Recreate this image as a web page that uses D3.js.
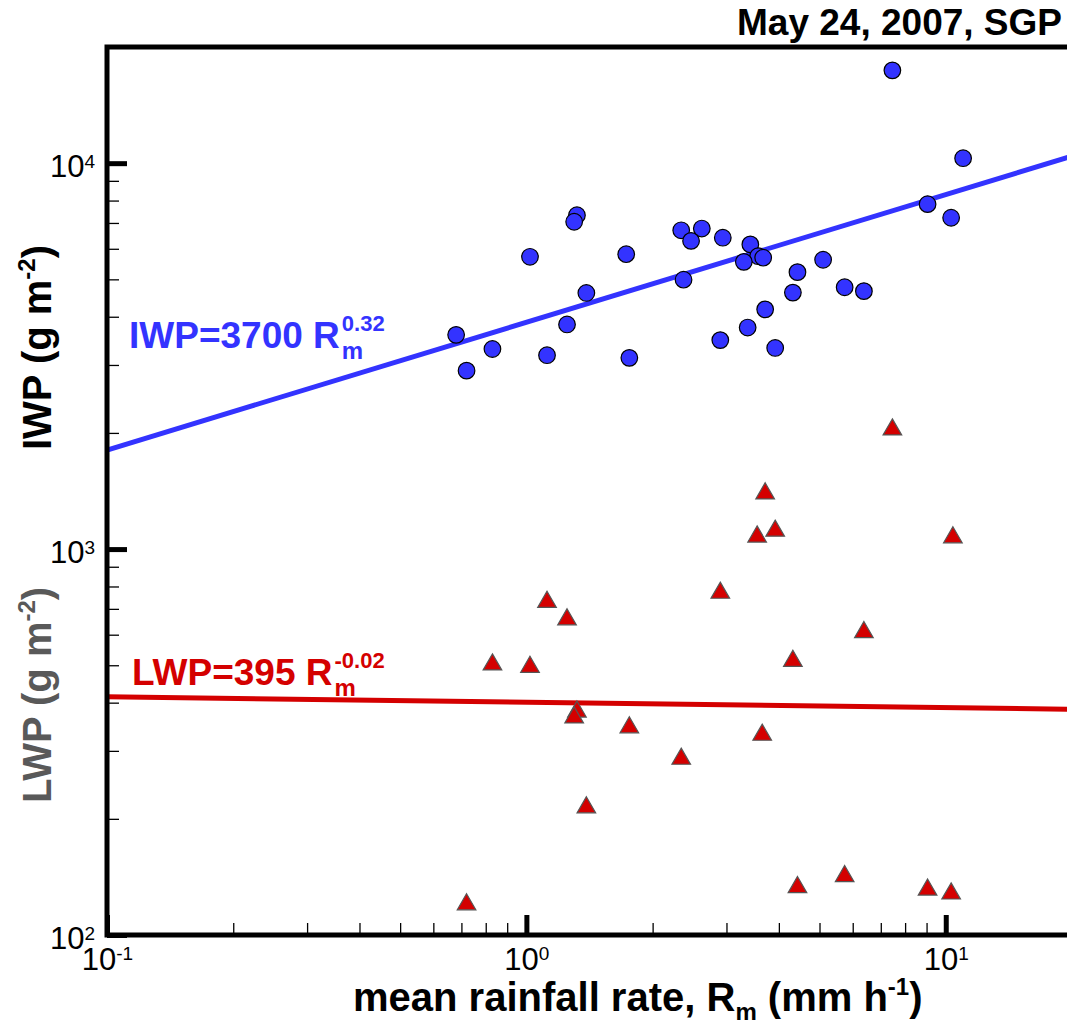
<!DOCTYPE html>
<html>
<head>
<meta charset="utf-8">
<script src="https://cdn.jsdelivr.net/npm/d3@7"></script>
<style>
  body { margin: 0; background: #fff; }
  text { font-family: "Liberation Sans", Arial, sans-serif; }
</style>
</head>
<body>
<script>
// data (May 24, 2007, SGP)

// IWP points: rain rate (mm/h) and ice water path (g/m2)
const rainIwp = [7.46, 11.0, 9.05, 10.3, 1.32, 1.30, 2.34, 2.62, 2.47, 2.94, 3.42, 1.02, 1.73, 3.57, 3.67, 3.30, 5.10,
  4.43, 2.37, 6.38, 5.74, 1.39, 4.32, 3.71, 1.25, 3.37, 0.68, 2.90, 3.92, 0.83, 1.12, 1.76, 0.72]
const iwp = [17400, 10300, 7830, 7220, 7330, 7050, 6700, 6770, 6290, 6410, 6160, 5720, 5810, 5740, 5690, 5550, 5620,
  5220, 4990, 4660, 4770, 4610, 4620, 4180, 3820, 3750, 3590, 3480, 3320, 3300, 3180, 3130, 2900]

// LWP points
const rainLwp = [7.46, 3.71, 3.55, 3.92, 10.4, 2.90, 1.12, 1.25, 1.02, 0.83, 4.32, 6.38, 1.32, 1.30, 1.76, 3.65,
  2.34, 1.39, 0.72, 4.43, 5.74, 9.05, 10.3]
const lwp = [2040, 1393, 1077, 1115, 1072, 770, 729, 657, 495, 502, 513, 609, 379, 366, 345, 330,
  286, 214, 120, 133, 142, 131, 128]

// power-law fits as drawn: a * R^b
const iwpFit = [3870, 0.331]
const lwpFit = [401, -0.014]

const xDomain = [0.1, 20]
const yDomain = [100, 20000]
const xMajor = [0.1, 1, 10]
const yMajor = [100, 1000, 10000]

const blue = "#3333ff"
const red = "#d40000"

// helpers

const exponent = v => String(Math.round(Math.log10(v)))

// flowing text with sub / superscript parts
const rich = (text, parts, size) => {
  let shift = 0
  parts.forEach(([t, kind]) => {
    const target = kind === "sup" ? -0.4 * size : kind === "sub" ? 0.22 * size : 0
    text.append("tspan")
      .attr("dy", target - shift)
      .attr("font-size", kind ? size * 0.6 : size)
      .text(t)
    shift = target
  })
}

// label with stacked subscript and superscript (tecplot style)
const fitLabel = (g, px, py, main, sub, sup, color) => {
  const t = g.append("text")
    .attr("x", px).attr("y", py)
    .attr("font-size", 37).attr("font-weight", "bold")
    .attr("fill", color)
    .text(main)
  const end = px + t.node().getComputedTextLength() + 2
  g.append("text")
    .attr("x", end).attr("y", py - 17)
    .attr("font-size", 22).attr("font-weight", "bold")
    .attr("fill", color).text(sup)
  g.append("text")
    .attr("x", end).attr("y", py + 11)
    .attr("font-size", 24).attr("font-weight", "bold")
    .attr("fill", color).text(sub)
}

const minorTicks = domain => {
  const out = []
  for (let d = Math.pow(10, Math.floor(Math.log10(domain[0]))); d < domain[1]; d *= 10) {
    for (let k = 2; k <= 9; k++) {
      const v = k * d
      if (v > domain[0] && v < domain[1]) out.push(v)
    }
  }
  return out
}

const powerLabel = (sel, shift) => sel.selectAll(".tick text")
  .attr("fill", "#000")
  .attr("font-size", 31)
  .each(function (d) {
    const t = d3.select(this)
    t.append("tspan").text("10")
    t.append("tspan").attr("dy", shift).attr("font-size", 19).text(exponent(d))
  })

// chart

const width = 1067
const height = 1024

const svg = d3.select("body").append("svg")
  .attr("width", width)
  .attr("height", height)

const x = d3.scaleLog().domain(xDomain).range([107, 1072])
const y = d3.scaleLog().domain(yDomain).range([935, 47])

const [x0, x1] = x.range()
const [y0, y1] = y.range()

// fit lines
const fitLine = ([a, b]) => d3.line()
  .x(d => x(d))
  .y(d => y(a * Math.pow(d, b)))

svg.append("path")
  .datum(xDomain)
  .attr("d", fitLine(iwpFit))
  .attr("stroke", blue).attr("stroke-width", 5).attr("fill", "none")

svg.append("path")
  .datum(xDomain)
  .attr("d", fitLine(lwpFit))
  .attr("stroke", red).attr("stroke-width", 5).attr("fill", "none")

// markers
svg.append("g").selectAll("circle")
  .data(d3.zip(rainIwp, iwp))
  .enter().append("circle")
    .attr("cx", d => x(d[0]))
    .attr("cy", d => y(d[1]))
    .attr("r", 8.3)
    .attr("fill", blue)
    .attr("stroke", "#000")
    .attr("stroke-width", 1.2)

const tri = d3.symbol().type(d3.symbolTriangle).size(150)

svg.append("g").selectAll("path")
  .data(d3.zip(rainLwp, lwp))
  .enter().append("path")
    .attr("d", tri)
    .attr("transform", d => `translate(${x(d[0])},${y(d[1])})`)
    .attr("fill", red)
    .attr("stroke", "#555")
    .attr("stroke-width", 1.2)

// axes, ticks point inward
const xMinorG = svg.append("g")
  .attr("transform", `translate(0,${y0})`)
  .call(d3.axisBottom(x).tickValues(minorTicks(xDomain)).tickSizeInner(-12).tickSizeOuter(0).tickFormat(""))
const xMajorG = svg.append("g")
  .attr("transform", `translate(0,${y0})`)
  .call(d3.axisBottom(x).tickValues(xMajor).tickSizeInner(-20).tickSizeOuter(0).tickPadding(13).tickFormat(""))

const yMinorG = svg.append("g")
  .attr("transform", `translate(${x0},0)`)
  .call(d3.axisLeft(y).tickValues(minorTicks(yDomain)).tickSizeInner(-12).tickSizeOuter(0).tickFormat(""))
const yMajorG = svg.append("g")
  .attr("transform", `translate(${x0},0)`)
  .call(d3.axisLeft(y).tickValues(yMajor).tickSizeInner(-20).tickSizeOuter(0).tickPadding(12).tickFormat(""))

svg.selectAll(".domain").remove()
xMinorG.selectAll(".tick line").attr("stroke-width", 1.3)
yMinorG.selectAll(".tick line").attr("stroke-width", 1.3)
xMinorG.selectAll(".tick text").remove()
yMinorG.selectAll(".tick text").remove()
xMajorG.selectAll(".tick line").attr("stroke-width", 5)
yMajorG.selectAll(".tick line").attr("stroke-width", 5)
svg.selectAll(".tick line").attr("stroke", "#000")

xMajorG.attr("font-family", null).attr("font-size", null)
yMajorG.attr("font-family", null).attr("font-size", null)
powerLabel(xMajorG, -10)
powerLabel(yMajorG, -9)
yMajorG.selectAll(".tick text").attr("dy", "0.42em")

// frame
svg.append("path")
  .attr("d", `M${x1 + 10},${y1} H${x0} V${y0} H${x1 + 10}`)
  .attr("fill", "none")
  .attr("stroke", "#000")
  .attr("stroke-width", 5)
  .attr("stroke-linecap", "square")

// titles
svg.append("text")
  .attr("x", 1062).attr("y", 35)
  .attr("text-anchor", "end")
  .attr("font-size", 37).attr("font-weight", "bold")
  .text("May 24, 2007, SGP")

const xt = svg.append("text")
  .attr("x", 353).attr("y", 1011)
  .attr("font-weight", "bold")
rich(xt, [["mean rainfall rate, R"], ["m", "sub"], [" (mm h"], ["-1", "sup"], [")"]], 40)

const iwpTitle = svg.append("text")
  .attr("transform", "translate(51,450) rotate(-90)")
  .attr("font-weight", "bold")
  .attr("fill", "#000")
rich(iwpTitle, [["IWP (g m"], ["-2", "sup"], [")"]], 40)

const lwpTitle = svg.append("text")
  .attr("transform", "translate(51,803) rotate(-90)")
  .attr("font-weight", "bold")
  .attr("fill", "#595959")
rich(lwpTitle, [["LWP (g m"], ["-2", "sup"], [")"]], 40)

// fit labels
fitLabel(svg, 129, 348, "IWP=3700 R", "m", "0.32", blue)
fitLabel(svg, 132, 685, "LWP=395 R", "m", "-0.02", red)
</script>
</body>
</html>
